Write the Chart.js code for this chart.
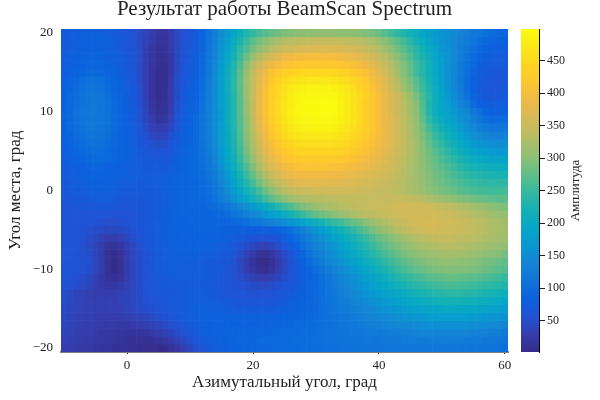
<!DOCTYPE html>
<html>
<head>
<meta charset="utf-8">
<script src="https://cdn.jsdelivr.net/npm/chart.js@4"></script>
<style>
  body { margin: 0; background: #fff; }
  #heat, #cbar { position: absolute; top: 0; }
  #heat { left: 0; }
  #cbar { left: 500px; }
</style>
</head>
<body>
<canvas id="heat" width="600" height="400"></canvas>
<canvas id="cbar" width="100" height="400"></canvas>
<script>
const azimuths = [-10,-9,-8,-7,-6,-5,-4,-3,-2,-1,0,1,2,3,4,5,6,7,8,9,10,11,12,13,14,15,16,17,18,19,20,21,22,23,24,25,26,27,28,29,30,31,32,33,34,35,36,37,38,39,40,41,42,43,44,45,46,47,48,49,50,51,52,53,54,55,56,57,58,59,60];
const elevations = [20,19,18,17,16,15,14,13,12,11,10,9,8,7,6,5,4,3,2,1,0,-1,-2,-3,-4,-5,-6,-7,-8,-9,-10,-11,-12,-13,-14,-15,-16,-17,-18,-19,-20];
const azTicks = [0, 20, 40, 60];
const elTicks = [-20, -10, 0, 10, 20];
const cbarTicks = [50, 100, 150, 200, 250, 300, 350, 400, 450];
const cbarRange = [2, 499];

// amplitude per cell, one row per elevation (top row = +20 deg)
const amplitude = [
[72,74,76,78,80,80,78,76,72,68, 62,56,48,38,28,20,18,30,44,54, 62,72,88,108,130,150,172,192,212,232, 246,258,268,278,286,292,296,300,302,304, 305,305,305,304,304,303,302,300,296,290, 282,270,256,244,232,220,206,194,182,172, 164,154,146,136,128,120,112,106,100,96, 92],
[72,75,78,80,82,82,80,78,74,70, 64,58,48,36,26,18,16,28,44,56, 64,74,90,110,134,156,180,204,228,250, 270,286,300,312,322,330,336,340,344,346, 348,348,348,347,346,344,340,336,330,324, 314,300,286,272,256,240,222,206,190,176, 166,154,142,132,122,112,104,96,90,86, 84],
[72,76,80,82,84,84,82,80,76,72, 66,58,48,34,22,14,14,26,44,58, 66,76,92,112,136,160,188,214,240,264, 288,304,318,332,344,352,358,362,366,370, 372,372,372,370,368,364,360,354,348,340, 330,316,302,286,270,254,236,218,202,186, 170,156,142,128,116,104,94,86,82,78, 78],
[74,78,82,86,88,88,86,82,78,74, 68,60,48,32,20,12,12,24,44,60, 68,78,94,116,140,166,196,224,252,282, 310,330,348,362,374,384,392,396,398,400, 400,400,400,398,394,390,384,378,370,360, 348,334,318,302,284,266,246,228,210,194, 176,160,144,128,112,98,88,80,76,74, 74],
[76,80,84,88,92,92,90,86,80,76, 70,60,48,32,18,10,10,24,44,62, 70,80,96,118,144,172,202,232,264,298, 330,352,372,388,400,408,414,418,420,422, 422,422,422,420,416,412,406,398,388,378, 364,348,332,314,296,276,256,236,216,198, 178,160,142,124,108,94,82,76,72,70, 70],
[78,82,88,92,96,96,94,88,84,78, 72,62,48,32,18,8,10,24,46,64, 72,82,98,120,148,176,206,238,272,308, 342,368,390,410,424,434,440,444,446,448, 448,448,448,446,442,436,428,418,406,392, 376,358,338,318,298,278,256,236,216,198, 180,160,140,122,104,90,78,72,68,66, 66],
[82,88,94,102,106,106,104,96,88,82, 74,64,50,32,18,8,10,26,48,66, 74,84,100,122,150,178,208,240,276,312, 346,374,398,420,438,450,458,462,466,468, 468,468,468,466,460,454,446,434,420,404, 388,370,350,330,310,290,268,246,224,204, 182,160,140,120,102,86,74,68,66,64, 64],
[84,91,98,106,110,111,108,100,92,85, 76,66,52,34,18,8,10,26,50,68, 76,86,102,124,150,178,208,240,274,310, 346,378,406,430,448,462,474,480,484,486, 486,486,486,484,478,470,458,444,428,412, 394,376,358,338,318,298,276,252,230,208, 186,164,142,122,102,86,72,66,66,66, 68],
[86,94,102,110,114,116,112,104,96,88, 78,68,52,34,18,8,10,28,50,70, 78,88,104,126,152,178,206,238,272,308, 346,380,408,432,450,464,478,486,490,493, 494,494,494,492,484,476,464,452,436,420, 404,386,368,352,332,312,290,262,236,212, 192,172,150,128,108,90,76,68,66,68, 70],
[88,96,104,112,116,118,114,106,98,90, 80,70,54,36,20,10,12,30,52,72, 80,90,106,128,152,178,206,236,270,306, 345,380,410,434,452,466,480,488,493,496, 497,497,497,495,487,477,465,450,435,420, 403,385,368,352,336,320,298,266,232,210, 194,178,160,140,124,100,86,78,74,76, 76],
[88,96,106,114,118,118,114,108,98,92, 82,72,56,38,22,12,14,32,54,74, 82,92,108,130,150,175,205,235,270,305, 345,380,410,435,452,467,482,490,494,496, 497,497,497,495,487,477,465,450,435,420, 403,385,368,352,336,320,302,270,235,210, 195,185,170,155,145,120,105,92,86,82, 84],
[88,96,104,112,116,116,114,108,98,91, 82,72,58,42,28,18,20,36,58,76, 84,94,110,130,152,175,205,235,268,302, 340,376,406,430,448,464,478,486,490,492, 493,493,493,490,484,475,464,450,435,420, 404,388,372,356,340,324,306,276,246,222, 204,192,176,160,146,130,116,104,98,98, 100],
[86,94,102,110,114,114,112,106,98,90, 82,74,62,48,36,28,30,44,62,78, 86,96,110,130,152,176,204,234,266,300, 336,370,400,424,442,458,470,478,482,484, 485,485,485,482,476,468,458,446,432,418, 402,388,372,358,342,326,310,284,258,236, 218,204,188,172,158,144,130,120,114,114, 116],
[84,91,99,106,110,110,109,103,96,89, 82,76,66,54,44,38,40,52,68,80, 88,96,110,128,150,174,202,232,264,298, 332,364,392,416,434,448,460,466,470,472, 472,472,472,470,464,458,448,438,426,414, 400,386,372,358,344,328,312,292,270,250, 232,216,200,186,172,158,146,138,134,132, 134],
[82,88,96,102,106,106,106,100,94,88, 82,76,68,60,52,48,50,60,72,82, 88,96,108,126,148,172,200,230,260,294, 326,356,384,404,422,436,446,452,456,458, 458,458,458,456,452,446,438,428,418,408, 396,384,370,358,344,330,316,298,278,260, 244,228,214,200,186,174,164,158,154,152, 152],
[78,84,92,96,100,102,102,97,92,87, 82,78,72,66,60,58,60,66,76,84, 90,96,106,122,144,168,196,226,256,288, 320,348,374,394,410,422,432,438,442,444, 444,444,444,442,438,432,426,416,408,398, 388,378,366,354,342,330,316,300,284,268, 254,240,226,212,200,190,182,176,172,170, 170],
[76,82,88,92,96,98,98,94,90,86, 82,78,74,70,68,66,68,72,80,86, 90,96,104,118,138,162,190,218,248,278, 308,336,360,380,396,408,416,422,426,426, 426,426,426,424,420,416,410,402,396,388, 380,370,360,350,340,328,316,302,288,276, 264,252,240,228,218,208,202,196,192,190, 190],
[72,76,80,84,88,90,90,88,84,82, 80,78,74,72,72,72,72,76,82,86, 90,94,102,114,132,154,180,208,236,264, 294,322,346,366,382,394,402,406,408,410, 410,410,408,406,404,400,396,390,384,378, 372,364,356,346,336,326,316,304,292,282, 272,262,250,240,232,224,218,214,210,208, 208],
[70,74,78,82,84,86,86,84,82,80, 78,76,74,74,74,74,76,78,84,88, 90,94,100,110,126,146,170,196,224,250, 278,304,328,348,364,376,384,390,392,394, 394,394,392,390,388,384,380,376,372,368, 362,356,350,342,334,326,316,306,296,286, 278,268,260,252,244,238,234,230,228,226, 226],
[68,72,76,78,80,82,82,82,78,76, 74,74,72,72,74,74,76,80,84,88, 90,92,98,106,120,138,160,184,208,234, 258,284,306,326,342,354,364,370,374,376, 376,376,376,374,372,370,368,364,360,358, 354,350,344,338,332,324,316,308,298,290, 284,276,268,262,256,250,246,244,242,244, 244],
[66,70,72,74,76,78,78,78,76,72, 70,70,70,70,72,74,76,80,84,88, 90,92,96,102,114,130,150,172,194,216, 236,258,280,300,318,332,342,348,352,354, 356,358,358,358,358,356,356,354,352,350, 348,346,342,338,332,326,320,312,304,296, 290,284,278,272,266,262,258,256,254,254, 256],
[64,66,68,70,72,72,74,74,72,68, 66,66,66,68,70,72,76,80,84,88, 90,92,94,98,108,122,140,158,178,196, 216,234,254,272,288,302,312,320,326,330, 332,334,336,338,340,342,344,346,346,348, 348,350,350,350,348,344,340,334,326,320, 314,308,302,296,292,286,282,278,274,272, 272],
[62,64,64,66,66,66,68,68,66,64, 62,62,64,66,68,72,76,80,84,88, 90,90,92,96,100,106,116,128,142,156, 170,186,202,218,234,250,264,280,292,302, 310,316,322,328,332,336,340,344,346,348, 350,352,354,356,358,358,358,356,354,350, 346,342,336,330,324,318,312,308,302,298, 294],
[60,60,60,60,60,60,60,60,58,58, 58,60,62,64,68,72,76,80,84,88, 88,90,90,92,94,96,102,110,118,128, 140,152,166,178,192,206,220,234,250,264, 276,284,292,300,308,316,324,330,336,340, 344,348,352,354,358,360,360,360,360,358, 356,352,348,342,338,332,326,322,316,312, 308],
[62,60,60,58,58,56,54,52,52,52, 56,60,64,66,70,74,76,80,84,86, 88,88,90,90,90,90,92,94,98,104, 112,118,126,134,142,150,160,172,186,200, 212,224,236,246,256,268,278,288,298,310, 320,328,336,344,350,356,360,362,362,362, 360,358,354,350,346,342,336,332,326,322, 318],
[62,60,58,56,54,50,46,44,44,46, 50,56,62,66,70,74,76,80,84,86, 86,88,88,88,88,86,84,82,80,78, 80,78,78,80,84,92,104,118,130,146, 160,176,190,204,216,230,244,258,272,288, 300,310,320,330,338,346,352,356,358,358, 358,356,354,350,346,342,338,332,328,324, 320],
[62,60,58,54,50,44,36,30,30,34, 42,50,58,64,68,74,76,80,82,84, 86,86,86,86,84,82,78,74,70,66, 62,58,56,60,66,76,88,102,116,130, 144,158,170,184,196,210,222,236,250,264, 278,288,298,308,316,324,330,336,340,344, 346,346,344,342,340,336,332,328,324,320, 316],
[62,60,56,52,46,38,26,18,14,20, 32,44,52,62,68,72,76,78,80,82, 84,84,82,80,78,74,70,66,58,50, 44,36,34,40,48,60,74,88,104,118, 132,144,156,168,182,196,208,222,236,248, 262,274,284,294,302,310,316,322,326,330, 332,332,332,330,328,324,320,318,314,310, 306],
[62,60,58,54,50,40,26,12,6,14, 30,42,50,56,66,72,74,76,78,80, 80,80,78,76,74,72,68,62,50,36, 26,14,12,20,32,46,60,76,92,108, 122,134,146,158,172,184,198,210,224,236, 248,260,270,280,288,296,302,308,312,316, 318,320,320,318,316,312,308,304,300,296, 290],
[62,60,58,56,52,42,28,12,3,12, 30,42,50,56,66,70,74,76,76,76, 76,76,74,72,70,68,64,55,45,28, 18,6,3,12,26,42,55,70,85,98, 112,124,136,148,160,172,184,196,208,220, 232,244,254,264,272,280,288,294,298,302, 306,306,306,304,302,298,294,290,286,280, 276],
[62,60,58,56,50,42,28,12,4,12, 28,42,50,56,64,70,74,74,76,76, 76,76,74,72,70,68,62,56,46,30, 22,10,8,16,28,44,58,70,82,92, 102,112,124,134,146,156,168,180,192,204, 216,228,238,250,260,268,276,282,288,292, 294,296,296,296,294,292,288,282,278,272, 268],
[60,58,54,50,44,36,24,14,12,18, 30,42,50,56,64,68,70,72,74,74, 74,74,74,72,68,64,60,56,50,42, 36,30,28,32,40,50,60,68,78,86, 96,106,116,126,136,148,158,170,180,190, 202,212,222,232,240,248,256,262,268,272, 276,278,278,276,274,272,268,264,260,254, 250],
[58,54,50,46,40,32,26,22,22,26, 34,42,50,56,62,66,68,70,72,72, 74,74,72,70,68,64,62,58,54,52, 50,46,46,48,54,60,66,72,80,88, 96,104,112,122,132,142,152,162,170,180, 190,198,208,216,224,232,238,244,250,254, 258,260,260,258,256,254,250,246,242,236, 232],
[50,46,40,36,32,30,28,28,30,32, 38,44,50,56,60,64,66,68,70,72, 74,74,74,72,70,66,64,62,60,58, 56,56,56,58,60,64,70,76,82,88, 96,102,110,118,128,136,144,152,160,168, 176,184,192,200,208,214,220,226,230,236, 238,240,240,240,238,236,232,228,224,218, 214],
[48,44,40,36,34,32,32,32,32,36, 40,44,50,54,58,62,66,68,70,72, 74,76,76,76,74,72,70,68,66,64, 64,62,62,64,66,70,74,80,84,90, 96,102,108,114,122,130,136,144,150,158, 164,172,178,186,192,198,202,208,212,216, 220,220,220,220,218,216,212,208,204,200, 196],
[46,42,38,36,34,32,32,32,34,34, 38,42,46,50,54,58,62,66,70,72, 76,78,78,78,78,76,76,74,72,72, 72,70,70,72,74,76,80,84,88,92, 96,102,106,112,118,124,130,136,142,148, 154,160,166,170,176,180,186,188,192,196, 198,200,200,198,196,194,192,188,184,180, 176],
[44,40,36,34,32,30,30,30,30,30, 32,34,38,42,46,52,56,62,66,70, 76,78,80,82,82,82,82,80,80,80, 80,80,80,80,82,84,86,88,92,94, 98,102,106,110,114,120,124,130,134,138, 144,148,152,156,160,164,168,170,174,176, 178,178,178,178,176,174,172,168,166,162, 158],
[42,38,34,32,30,28,28,26,26,24, 24,26,28,32,36,40,46,52,58,64, 70,76,80,82,84,86,86,86,86,86, 86,86,86,88,88,90,92,94,96,98, 100,102,106,108,112,116,118,122,126,130, 132,136,140,142,146,148,150,154,156,158, 158,158,158,158,156,154,152,150,146,144, 140],
[38,36,32,30,28,26,24,22,22,20, 18,18,18,20,24,28,34,40,48,56, 62,70,76,80,84,86,88,88,90,90, 90,90,92,92,94,94,96,98,100,100, 102,104,106,108,110,112,114,116,118,122, 124,126,128,130,132,134,136,138,138,140, 140,140,140,140,138,136,134,132,130,128, 124],
[34,32,30,28,26,24,22,20,18,16, 14,12,12,12,12,16,20,26,36,44, 54,62,70,76,80,84,86,88,90,92, 92,94,94,96,96,98,98,100,100,102, 104,104,106,106,108,110,110,112,114,116, 116,118,120,120,122,122,124,124,126,126, 126,126,126,126,124,122,122,120,118,116, 112],
[30,28,26,24,22,20,18,16,14,14, 12,10,8,8,8,6,8,14,22,32, 42,52,60,68,74,78,82,84,86,88, 90,92,92,94,94,96,96,98,100,100, 102,102,104,104,106,106,106,108,108,110, 110,112,112,112,114,114,114,114,116,116, 116,116,116,114,114,112,112,110,108,106, 104]
];

const parula = [[53,42,135],[53,61,173],[32,83,212],[10,97,222],[15,117,218],[20,133,212],[9,152,209],[6,167,198],[21,177,180],[56,185,158],[101,190,134],[146,191,115],[183,189,100],[212,186,88],[238,186,72],[253,197,48],[253,212,34],[250,232,24],[250,252,14]];

function colorOf(v) {
    const t = (v - cbarRange[0]) / (cbarRange[1] - cbarRange[0]) * (parula.length - 1);
    const i = Math.max(0, Math.min(parula.length - 2, Math.floor(t)));
    const f = Math.max(0, Math.min(1, t - i));
    const c = parula[i].map((a, k) => Math.round(a + (parula[i + 1][k] - a) * f));
    return `rgb(${c[0]},${c[1]},${c[2]})`;
}

const serif = 'Liberation Serif';
const minus = v => String(v).replace('-', '\u2212');

// one floating-bar dataset per elevation row
const datasets = elevations.map((el, r) => ({
    data: azimuths.map(() => [el - 0.5, el + 0.5]),
    backgroundColor: amplitude[r].map(colorOf),
    grouped: false,
    barPercentage: 1,
    categoryPercentage: 1
}));

new Chart(document.getElementById('heat'), {
    type: 'bar',
    data: { labels: azimuths, datasets: datasets },
    options: {
        responsive: false,
        animation: false,
        layout: { padding: { left: 0, right: 92, top: 0, bottom: 0 } },
        plugins: {
            legend: { display: false },
            tooltip: { enabled: false },
            title: {
                display: true,
                text: 'Результат работы BeamScan Spectrum',
                color: '#222',
                fullSize: false,
                font: { family: serif, size: 21, weight: 'normal', lineHeight: 0.9 },
                padding: { top: 0, bottom: 10 }
            }
        },
        scales: {
            x: {
                afterFit: s => { s.height = 48; },
                afterBuildTicks: s => { s.ticks = s.ticks.filter(t => azTicks.includes(azimuths[t.value])); },
                ticks: {
                    autoSkip: false,
                    maxRotation: 0,
                    color: '#222',
                    padding: 4,
                    font: { family: serif, size: 13 },
                    callback: function (v) { return minus(this.getLabelForValue(v)); }
                },
                grid: { offset: false, drawOnChartArea: false, tickLength: 2, tickColor: '#222' },
                border: { color: '#7f7f7f', width: 2 },
                title: {
                    display: true,
                    text: 'Азимутальный угол, град',
                    color: '#222',
                    font: { family: serif, size: 17 },
                    padding: { top: 0, bottom: 7 }
                }
            },
            y: {
                min: -20.5,
                max: 20.5,
                afterFit: s => { s.width = 61; },
                afterBuildTicks: s => { s.ticks = elTicks.map(v => ({ value: v })); },
                ticks: {
                    color: '#222',
                    padding: 0,
                    font: { family: serif, size: 13 },
                    callback: v => minus(v)
                },
                grid: { display: false },
                border: { display: false },
                title: {
                    display: true,
                    text: 'Угол места, град',
                    color: '#222',
                    font: { family: serif, size: 17 },
                    padding: { top: 5, bottom: 0 }
                }
            }
        }
    }
});

// colour bar: a single floating bar painted with the colormap gradient
const cbarTitle = {
    id: 'cbarTitle',
    afterDraw(chart) {
        const c = chart.ctx;
        c.save();
        c.translate(76, (chart.chartArea.top + chart.chartArea.bottom) / 2);
        c.rotate(-Math.PI / 2);
        c.textAlign = 'center';
        c.textBaseline = 'middle';
        c.fillStyle = '#222';
        c.font = `13px "${serif}"`;
        c.fillText('Амплитуда', 0, 0);
        c.restore();
    }
};

new Chart(document.getElementById('cbar'), {
    type: 'bar',
    data: {
        labels: [''],
        datasets: [{
            data: [cbarRange],
            barPercentage: 1,
            categoryPercentage: 1,
            backgroundColor(ctx) {
                const area = ctx.chart.chartArea;
                if (!area) return '#000';
                const g = ctx.chart.ctx.createLinearGradient(0, area.bottom, 0, area.top);
                parula.forEach((c, i) => g.addColorStop(i / (parula.length - 1), `rgb(${c[0]},${c[1]},${c[2]})`));
                return g;
            }
        }]
    },
    plugins: [cbarTitle],
    options: {
        responsive: false,
        animation: false,
        layout: { padding: { left: 21, right: 0, top: 29, bottom: 48 } },
        plugins: { legend: { display: false }, tooltip: { enabled: false } },
        scales: {
            x: { display: false },
            y: {
                position: 'right',
                min: cbarRange[0],
                max: cbarRange[1],
                afterFit: s => { s.width = 61; },
                afterBuildTicks: s => { s.ticks = cbarTicks.map(v => ({ value: v })); },
                ticks: { color: '#222', padding: 2, font: { family: serif, size: 12 } },
                grid: { drawOnChartArea: false, tickLength: 6, tickColor: '#222' },
                border: { color: '#000', width: 1 }
            }
        }
    }
});
</script>
</body>
</html>
